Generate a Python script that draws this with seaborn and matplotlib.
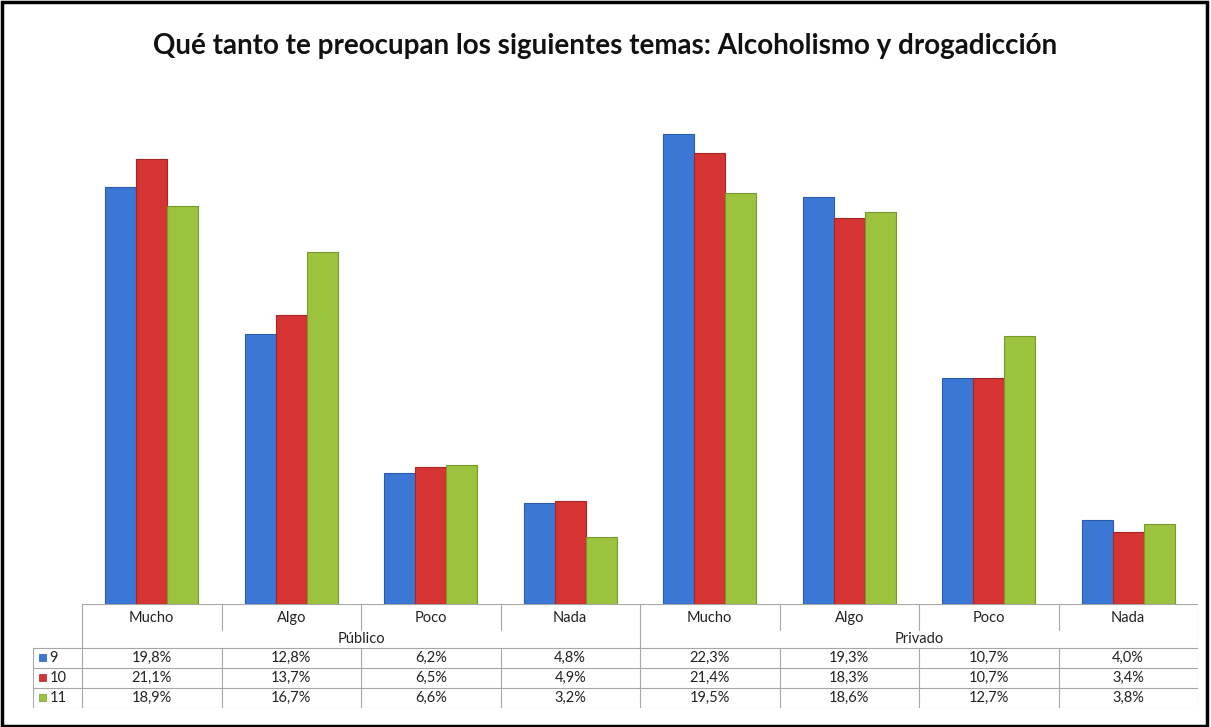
import matplotlib
matplotlib.use("Agg")
import matplotlib.pyplot as plt
from matplotlib.patches import Rectangle
import seaborn as sns
import pandas as pd

# datos
categorias = ["Mucho", "Algo", "Poco", "Nada"]
grupos = ["Público", "Privado"]
series = ["9", "10", "11"]
serie_9 = [19.8, 12.8, 6.2, 4.8, 22.3, 19.3, 10.7, 4.0]
serie_10 = [21.1, 13.7, 6.5, 4.9, 21.4, 18.3, 10.7, 3.4]
serie_11 = [18.9, 16.7, 6.6, 3.2, 19.5, 18.6, 12.7, 3.8]
titulo = "Qué tanto te preocupan los siguientes temas: Alcoholismo y drogadicción"

colores = {"9": "#3B78D6", "10": "#D63333", "11": "#9CC33E"}
bordes = {"9": "#2A5BA8", "10": "#A82424", "11": "#76982C"}

columnas = [g + "-" + c for g in grupos for c in categorias]
valores = {"9": serie_9, "10": serie_10, "11": serie_11}
filas = []
for s in series:
    for col, v in zip(columnas, valores[s]):
        filas.append({"columna": col, "serie": s, "valor": v})
df = pd.DataFrame(filas)

sns.set_style("white")
plt.rcParams["font.family"] = ["Lato", "DejaVu Sans"]

W, H = 1211, 727
fig = plt.figure(figsize=(W / 100, H / 100), dpi=100)
fig.patch.set_facecolor("white")

x0, x1 = 82, 1198
y_base, y_top = 604, 98
ax = fig.add_axes([x0 / W, (H - y_base) / H, (x1 - x0) / W, (y_base - y_top) / H])
sns.barplot(data=df, x="columna", y="valor", hue="serie", order=columnas,
            hue_order=series, palette=colores, width=0.67, saturation=1,
            legend=False, ax=ax)
for cont, s in zip(ax.containers, series):
    for barra in cont:
        barra.set_edgecolor(bordes[s])
        barra.set_linewidth(0.8)
ax.set_xlim(-0.5, 7.5)
ax.set_ylim(0, 24)
ax.axis("off")

# tabla de datos debajo
ancho_col = (x1 - x0) / 8
xl = 33
ta = fig.add_axes([xl / W, (H - 708) / H, (x1 - xl) / W, (708 - 604) / H])
ta.set_xlim(-0.5 - (x0 - xl) / ancho_col, 7.5)
ta.set_ylim(708, 604)
ta.axis("off")
gris = "#A6A6A6"
izq = -0.5 - (x0 - xl) / ancho_col
fs = 10.5
# lineas horizontales
ta.plot([-0.5, 7.5], [604, 604], color=gris, lw=0.8)
for yy in [648, 668, 688, 708]:
    ta.plot([izq, 7.5], [yy, yy], color=gris, lw=0.8)
# lineas verticales
ta.plot([-0.5, -0.5], [604, 708], color=gris, lw=0.8)
ta.plot([izq, izq], [648, 708], color=gris, lw=0.8)
ta.plot([7.5, 7.5], [604, 708], color=gris, lw=0.8)
ta.plot([3.5, 3.5], [604, 708], color=gris, lw=0.8)
for i in range(8):
    if i in (0, 4):
        continue
    xx = i - 0.5
    ta.plot([xx, xx], [604, 630], color=gris, lw=0.8)
    ta.plot([xx, xx], [648, 708], color=gris, lw=0.8)

for i, col in enumerate(columnas):
    ta.text(i, 618, col.split("-")[1], ha="center", va="center", fontsize=fs, color="#222222")
for j, g in enumerate(grupos):
    ta.text(1.5 + 4 * j, 639, g, ha="center", va="center", fontsize=fs, color="#222222")

filas_y = [658, 678, 698]
for s, yy in zip(series, filas_y):
    ta.add_patch(Rectangle((izq + 0.04, yy - 3.5), 0.055, 7, facecolor=colores[s],
                           edgecolor=bordes[s], lw=0.5))
    ta.text(izq + 0.12, yy, s, ha="left", va="center", fontsize=fs, color="#222222")
    for i, v in enumerate(valores[s]):
        txt = f"{v:.1f}%".replace(".", ",")
        ta.text(i, yy, txt, ha="center", va="center", fontsize=fs, color="#222222")

fig.text(605 / W, 1 - 46 / H, titulo, ha="center", va="center", fontsize=20,
         fontweight="bold", color="#111111")

fig.add_artist(Rectangle((0.002, 0.002), 0.995, 0.995, transform=fig.transFigure,
                         fill=False, edgecolor="black", lw=2.5))

fig.savefig("out.png", dpi=100)
